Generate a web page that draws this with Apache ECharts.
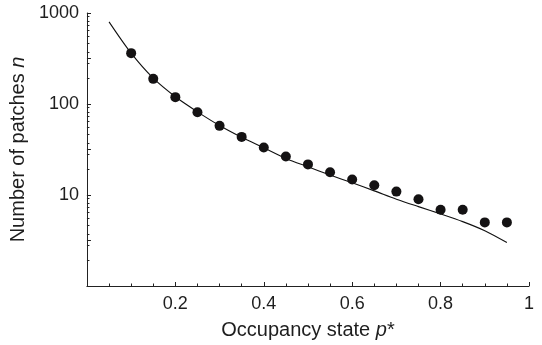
<!DOCTYPE html>
<html>
<head>
<meta charset="utf-8">
<script src="https://cdn.jsdelivr.net/npm/echarts@6/dist/echarts.min.js"></script>
<style>html,body{margin:0;padding:0;background:#fff;}#c{width:542px;height:345px;}</style>
</head>
<body>
<div id="c"></div>
<script>
// Observed data (dots)
const dotX = [0.1,0.15,0.2,0.25,0.3,0.35,0.4,0.45,0.5,0.55,0.6,0.65,0.7,0.75,0.8,0.85,0.9,0.95];
const dotY = [362,189,119,81,57.5,43.5,33.3,26.5,21.7,17.8,14.8,12.8,10.9,9.0,6.9,6.9,5.0,5.0];
// Model curve
const lineX = [0.05,0.1,0.15,0.2,0.25,0.3,0.35,0.4,0.45,0.5,0.55,0.6,0.65,0.7,0.75,0.8,0.85,0.9,0.95];
const lineY = [800,362,192,120,82,58,43,33,25.2,20.4,16.6,13.6,11.1,9.0,7.45,6.2,5.1,4.05,3.0];
const xTicks = [0.2,0.4,0.6,0.8,1];
const yTicks = [10,100,1000];

const font = 'Liberation Sans, Arial, Helvetica, sans-serif';
const axisColor = '#222';
const textColor = '#1e1e1e';
const chart = echarts.init(document.getElementById('c'), null, {renderer:'canvas'});
chart.setOption({
  animation:false,
  grid:{left:85,right:13,top:13,bottom:58,containLabel:false},
  xAxis:{
    type:'value',min:0,max:1,interval:0.2,
    name:'{a|Occupancy state }{i|p}{a|*}',
    nameLocation:'middle',nameGap:34,
    nameTextStyle:{rich:{a:{fontFamily:font,fontSize:20,color:textColor},i:{fontFamily:font,fontSize:20,fontStyle:'italic',color:textColor}}},
    axisLine:{show:true,lineStyle:{color:axisColor,width:1}},
    axisTick:{show:true,inside:true,length:4,lineStyle:{color:axisColor}},
    minorTick:{show:true,splitNumber:4,length:2.5,lineStyle:{color:axisColor}},
    splitLine:{show:false},
    axisLabel:{fontFamily:font,fontSize:18,color:textColor,margin:9,
      formatter:function(v){ for(const t of xTicks){ if(Math.abs(v-t)<1e-9) return String(t);} return ''; }}
  },
  yAxis:[{
    type:'log',min:1,max:1000,logBase:10,
    name:'{a|Number of patches }{i|n}',
    nameLocation:'middle',nameGap:54,nameRotate:90,
    nameTextStyle:{rich:{a:{fontFamily:font,fontSize:20,color:textColor},i:{fontFamily:font,fontSize:20,fontStyle:'italic',color:textColor}}},
    axisLine:{show:true,lineStyle:{color:axisColor,width:1}},
    axisTick:{show:true,inside:true,length:4,lineStyle:{color:axisColor}},
    minorTick:{show:true,splitNumber:10,length:2.5,lineStyle:{color:axisColor}},
    splitLine:{show:false},
    axisLabel:{fontFamily:font,fontSize:18,color:textColor,margin:8,
      formatter:function(v){ for(const t of yTicks){ if(Math.abs(v-t)<1e-6*t) return String(t);} return ''; }}
  },{
    type:'value',min:0,max:3,interval:0.5,position:'left',
    axisLine:{show:false},axisLabel:{show:false},splitLine:{show:false},
    axisTick:{show:true,inside:true,length:4,lineStyle:{color:axisColor}}
  }],
  series:[{
    type:'line',data:lineX.map((x,i)=>[x,lineY[i]]),
    showSymbol:false,smooth:0.3,lineStyle:{color:'#111',width:1.1},z:2
  },{
    type:'scatter',data:dotX.map((x,i)=>[x,dotY[i]]),
    symbol:'circle',symbolSize:10,itemStyle:{color:'#141213',opacity:1},z:3
  }]
});
</script>
</body>
</html>
